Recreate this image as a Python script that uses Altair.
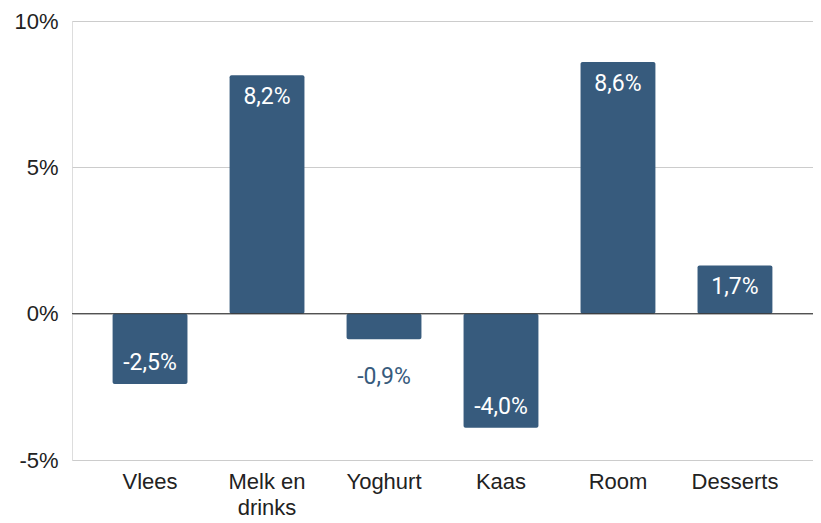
import altair as alt
import pandas as pd

categories = ["Vlees", "Melk en drinks", "Yoghurt", "Kaas", "Room", "Desserts"]
values = [-2.4, 8.15, -0.87, -3.9, 8.6, 1.65]
labels = ["-2,5%", "8,2%", "-0,9%", "-4,0%", "8,6%", "1,7%"]
y_ticks = [-5, 0, 5, 10]

BAR = "#375b7d"
FONT = "Roboto"
AXFONT = "Liberation Sans"

df = pd.DataFrame({"cat": categories, "val": values, "lab": labels})

x = alt.X("cat:N", sort=categories, title=None,
          scale=alt.Scale(paddingInner=0.36, paddingOuter=0.347),
          axis=alt.Axis(labelAngle=0, labelFontSize=22, labelFont=AXFONT, labelColor="#222",
                        labelPadding=11, ticks=False, domain=False, grid=False,
                        labelLineHeight=26, labelBaseline="top",
                        labelExpr="datum.label == 'Melk en drinks' ? ['Melk en', 'drinks'] : datum.label"))
y = alt.Y("val:Q", title=None,
          scale=alt.Scale(domain=[-5, 10], nice=False),
          axis=alt.Axis(values=y_ticks, labelExpr="datum.value + '%'", labelFontSize=22,
                        labelFont=AXFONT, labelColor="#222", labelPadding=14, ticks=False,
                        domain=False, gridColor="#cccccc", gridWidth=1))

base = alt.Chart(df)
bars = base.mark_bar(color=BAR, cornerRadius=2).encode(x=x, y=y, y2=alt.datum(0))

lab_base = base.transform_calculate(inside="abs(datum.val) > 1.5")
pos = lab_base.transform_filter("datum.val > 0").mark_text(
    font=FONT, fontSize=23, color="white", dy=22).encode(x=x, y=y, text="lab:N")
neg_in = lab_base.transform_filter("datum.val < 0 && datum.inside").mark_text(
    font=FONT, fontSize=23, color="white", dy=-21).encode(x=x, y=y, text="lab:N")
neg_out = lab_base.transform_filter("datum.val < 0 && !datum.inside").mark_text(
    font=FONT, fontSize=23, color=BAR, dy=38).encode(x=x, y=y, text="lab:N")

zero = alt.Chart(pd.DataFrame({"z": [0]})).mark_rule(color="#333333", strokeWidth=1).encode(
    y=alt.Y("z:Q", scale=alt.Scale(domain=[-5, 10], nice=False)))

chart = alt.layer(bars, zero, pos, neg_in, neg_out).properties(
    width=741, height=439,
    autosize=alt.AutoSizeParams(type="none"),
    padding={"left": 64, "top": 13, "right": 0, "bottom": 62},
).configure_view(stroke=None).configure(background="white")

chart.save("out.html", embed_options={"renderer": "svg", "actions": False})
